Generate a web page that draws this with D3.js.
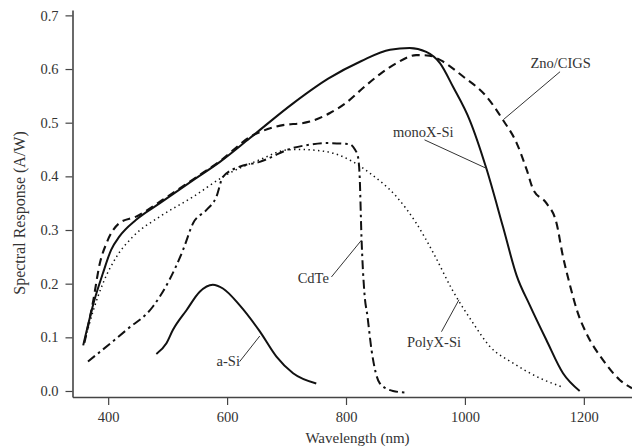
<!DOCTYPE html>
<html><head><meta charset="utf-8">
<script src="https://cdn.jsdelivr.net/npm/d3@7/dist/d3.min.js"></script>
<style>
html,body{margin:0;padding:0;background:#fff;}
svg{display:block;}
text{font-family:"Liberation Serif","Times New Roman",serif;fill:#333;}
</style></head>
<body>
<svg id="chart" width="632" height="447"></svg>
<script>
// ---- data (wavelength nm, spectral response A/W) ----
const monoWl   = [358,377,391,405,419,447,487,543,588,638,711,770,826,874,907,935,958,980,1008,1036,1064,1087,1109,1137,1165,1193];
const monoVal  = [0.085,0.170,0.219,0.263,0.288,0.319,0.350,0.393,0.427,0.471,0.536,0.582,0.615,0.636,0.639,0.632,0.611,0.567,0.505,0.415,0.306,0.215,0.160,0.095,0.033,0.0];

const cigsWl   = [360,374,386,397,419,447,490,545,590,638,683,739,773,800,829,860,885,918,940,958,997,1036,1064,1087,1104,1115,1137,1154,1165,1176,1190,1204,1232,1260,1281];
const cigsVal  = [0.090,0.163,0.238,0.275,0.313,0.325,0.355,0.396,0.430,0.473,0.493,0.502,0.518,0.537,0.565,0.593,0.611,0.626,0.625,0.617,0.586,0.549,0.505,0.462,0.412,0.375,0.350,0.313,0.250,0.200,0.145,0.108,0.058,0.021,0.005];

const cdteWl   = [366,431,475,503,526,543,565,582,593,621,655,677,700,739,767,806,815,820,823,826,831,836,843,857,879,902];
const cdteVal  = [0.055,0.114,0.157,0.207,0.263,0.313,0.337,0.362,0.399,0.418,0.427,0.437,0.449,0.459,0.462,0.460,0.450,0.437,0.399,0.288,0.182,0.140,0.076,0.014,0.0,-0.003];

const polyWl   = [362,375,391,414,442,487,543,599,655,700,722,767,812,840,885,918,948,978,1014,1042,1081,1126,1165];
const polyVal  = [0.100,0.150,0.200,0.250,0.288,0.325,0.362,0.403,0.431,0.449,0.450,0.446,0.427,0.406,0.362,0.313,0.255,0.190,0.126,0.083,0.052,0.024,0.007];

const asiWl    = [481,498,509,532,554,576,593,621,655,683,711,750];
const asiVal   = [0.069,0.089,0.114,0.151,0.185,0.198,0.191,0.160,0.111,0.064,0.033,0.014];

const xTicks = [400,600,800,1000,1200];
const yTicks = [0,0.1,0.2,0.3,0.4,0.5,0.6,0.7];

// labels: text position and leader line (data coords)
const labelNames = ["Zno/CIGS","monoX-Si","CdTe","a-Si","PolyX-Si"];
const labelPos   = [[1161,0.612],[930,0.483],[745,0.211],[602,0.0565],[948,0.092]];
const leaderFrom = [[1160,0.595],[932,0.468],[775.5,0.2125],[621,0.0546],[960.6,0.1105]];
const leaderTo   = [[1065,0.506],[1036,0.415],[826,0.281],[655,0.1025],[990,0.170]];

// ---- chart ----
const svg = d3.select("#chart");
const x = d3.scaleLinear().domain([340,1281]).range([72.5,632]);
const y = d3.scaleLinear().domain([-0.0112,0.710]).range([397,10]);

const axisColor = "#444";
const gx = svg.append("g").attr("transform","translate(0,397)")
  .call(d3.axisBottom(x).tickValues(xTicks).tickSize(8).tickSizeOuter(0).tickPadding(7).tickFormat(d3.format("d")));
const gy = svg.append("g").attr("transform","translate(72.5,0)")
  .call(d3.axisLeft(y).tickValues(yTicks).tickSize(7).tickSizeOuter(0).tickPadding(7).tickFormat(d3.format(".1f")));
[gx,gy].forEach(g=>{
  g.select(".domain").attr("stroke",axisColor).attr("stroke-width",1.6);
  g.selectAll(".tick line").attr("stroke",axisColor).attr("stroke-width",1.2);
  g.selectAll(".tick text").attr("font-family","Liberation Serif, serif").attr("font-size",14.5).attr("fill","#333");
});

svg.append("text").attr("x",357.5).attr("y",443).attr("text-anchor","middle")
  .attr("font-size",15).text("Wavelength (nm)");
svg.append("text").attr("transform","translate(25,213) rotate(-90)").attr("text-anchor","middle")
  .attr("font-size",16).text("Spectral Response (A/W)");

const line = d3.line().x(d=>x(d[0])).y(d=>y(d[1])).curve(d3.curveMonotoneX);
const zip = (a,b)=>a.map((v,i)=>[v,b[i]]);

const series = [
  {wl:asiWl, v:asiVal, dash:null, w:2},
  {wl:polyWl, v:polyVal, dash:"1.4,3.4", w:1.5},
  {wl:cdteWl, v:cdteVal, dash:"9,4,2.5,4", w:2},
  {wl:cigsWl, v:cigsVal, dash:"8,5", w:2.1},
  {wl:monoWl, v:monoVal, dash:null, w:2}
];
series.forEach(s=>{
  svg.append("path").attr("d",line(zip(s.wl,s.v)))
    .attr("fill","none").attr("stroke","#111").attr("stroke-width",s.w)
    .attr("stroke-dasharray",s.dash).attr("stroke-linecap","butt").attr("stroke-linejoin","round");
});

labelNames.forEach((n,i)=>{
  svg.append("line")
    .attr("x1",x(leaderFrom[i][0])).attr("y1",y(leaderFrom[i][1]))
    .attr("x2",x(leaderTo[i][0])).attr("y2",y(leaderTo[i][1]))
    .attr("stroke","#333").attr("stroke-width",1);
  svg.append("text").attr("x",x(labelPos[i][0])).attr("y",y(labelPos[i][1]))
    .attr("dy","0.35em").attr("text-anchor","middle").attr("font-size",14.5).text(n);
});
</script>
</body></html>
